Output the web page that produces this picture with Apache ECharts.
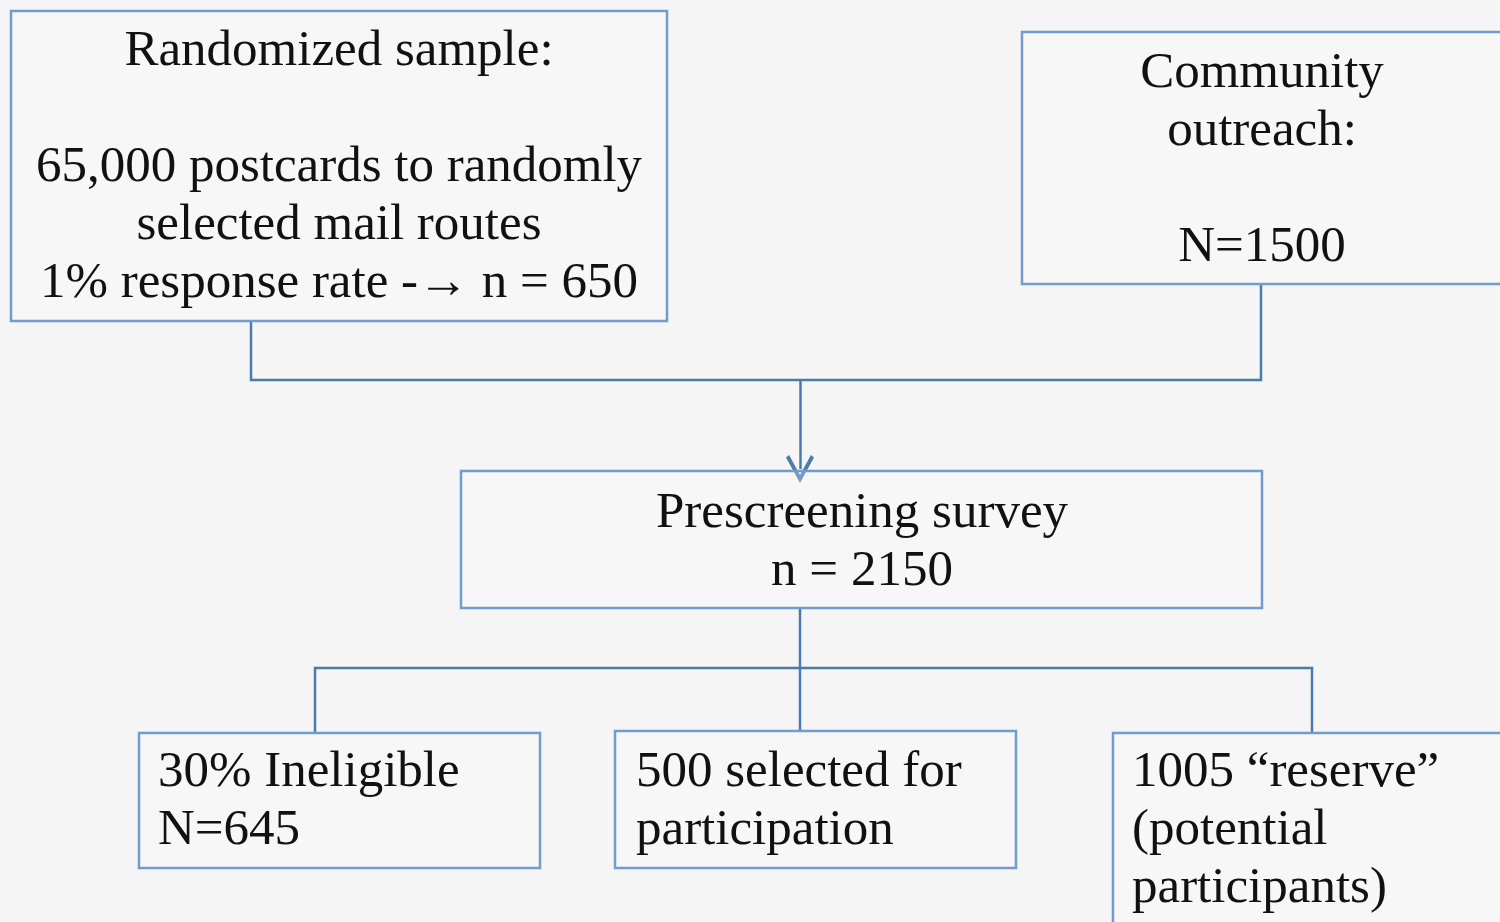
<!DOCTYPE html>
<html>
<head>
<meta charset="utf-8">
<script src="https://cdn.jsdelivr.net/npm/echarts@6/dist/echarts.min.js"></script>
<style>
html,body{margin:0;padding:0;background:#f5f5f5;}
#c{width:1500px;height:922px;}
</style>
</head>
<body>
<div id="c"></div>
<script>
// Flowchart content
const boxLabels = [
  ['Randomized sample:', '', '65,000 postcards to randomly', 'selected mail routes', '1% response rate -\u2192 n = 650'],
  ['Community', 'outreach:', '', 'N=1500'],
  ['Prescreening survey', 'n = 2150'],
  ['30% Ineligible', 'N=645'],
  ['500 selected for', 'participation'],
  ['1005 \u201creserve\u201d', '(potential', 'participants)']
];
// box extents [x0, y0, x1, y1] in page units
const boxExtents = [
  [11, 11, 667, 321],
  [1022, 32, 1503, 284],
  [461, 471, 1262, 608],
  [139, 733, 540, 868],
  [615, 731, 1016, 868],
  [1113, 733, 1503, 930]
];
// text anchor [x, firstLineCenterY, align]
const textAnchors = [
  [339, 52, 'center'],
  [1262, 74, 'center'],
  [862, 514, 'center'],
  [158, 773, 'left'],
  [636, 773, 'left'],
  [1132, 773, 'left']
];
// connectors
const connectors = [
  [[251, 321], [251, 380], [1261, 380], [1261, 284]],
  [[315, 733], [315, 668], [1312, 668], [1312, 733]],
  [[800, 608], [800, 731]]
];
const arrowLine = [[800, 380], [800, 469]];

const chart = echarts.init(document.getElementById('c'));
const LH = 58;
const FONT = '"Liberation Serif", "DejaVu Serif", serif';

const boxData = boxExtents.map((b, i) => [b[0], b[1], b[2], b[3], i]);

chart.setOption({
  backgroundColor: '#f5f5f5',
  animation: false,
  grid: {left: 0, right: 0, top: 0, bottom: 0},
  xAxis: {type: 'value', min: 0, max: 1500, show: false},
  yAxis: {type: 'value', min: 0, max: 922, inverse: true, show: false},
  series: [
    {
      type: 'lines',
      coordinateSystem: 'cartesian2d',
      polyline: true,
      silent: true,
      lineStyle: {color: '#4b7bad', width: 2.5, opacity: 1},
      symbol: 'none',
      data: connectors.map(c => ({coords: c}))
    },
    {
      type: 'lines',
      coordinateSystem: 'cartesian2d',
      silent: true,
      lineStyle: {color: '#4b7bad', width: 2.5, opacity: 1},
      symbol: ['none', 'path://M10,0 L20,16 L17.8,17.6 L10,5 L2.2,17.6 L0,16 Z'],
      symbolSize: [30, 28],
      symbolKeepAspect: false,
      data: [{coords: arrowLine}]
    },
    {
      type: 'custom',
      coordinateSystem: 'cartesian2d',
      silent: true,
      data: boxData,
      renderItem: function (params, api) {
        const i = api.value(4);
        const p0 = api.coord([api.value(0), api.value(1)]);
        const p1 = api.coord([api.value(2), api.value(3)]);
        const ta = textAnchors[i];
        const tp = api.coord([ta[0], ta[1]]);
        return {
          type: 'group',
          children: [
            {
              type: 'rect',
              shape: {x: p0[0], y: p0[1], width: p1[0] - p0[0], height: p1[1] - p0[1]},
              style: {fill: 'rgba(255,255,255,0.25)', stroke: '#729ccb', lineWidth: 2.5}
            },
            {
              type: 'text',
              x: tp[0],
              y: tp[1] - LH / 2,
              style: {
                text: boxLabels[i].join('\n'),
                fontFamily: FONT,
                fontSize: 51,
                lineHeight: LH,
                fill: '#111111',
                align: ta[2],
                verticalAlign: 'top'
              }
            }
          ]
        };
      }
    }
  ]
});
</script>
</body>
</html>
